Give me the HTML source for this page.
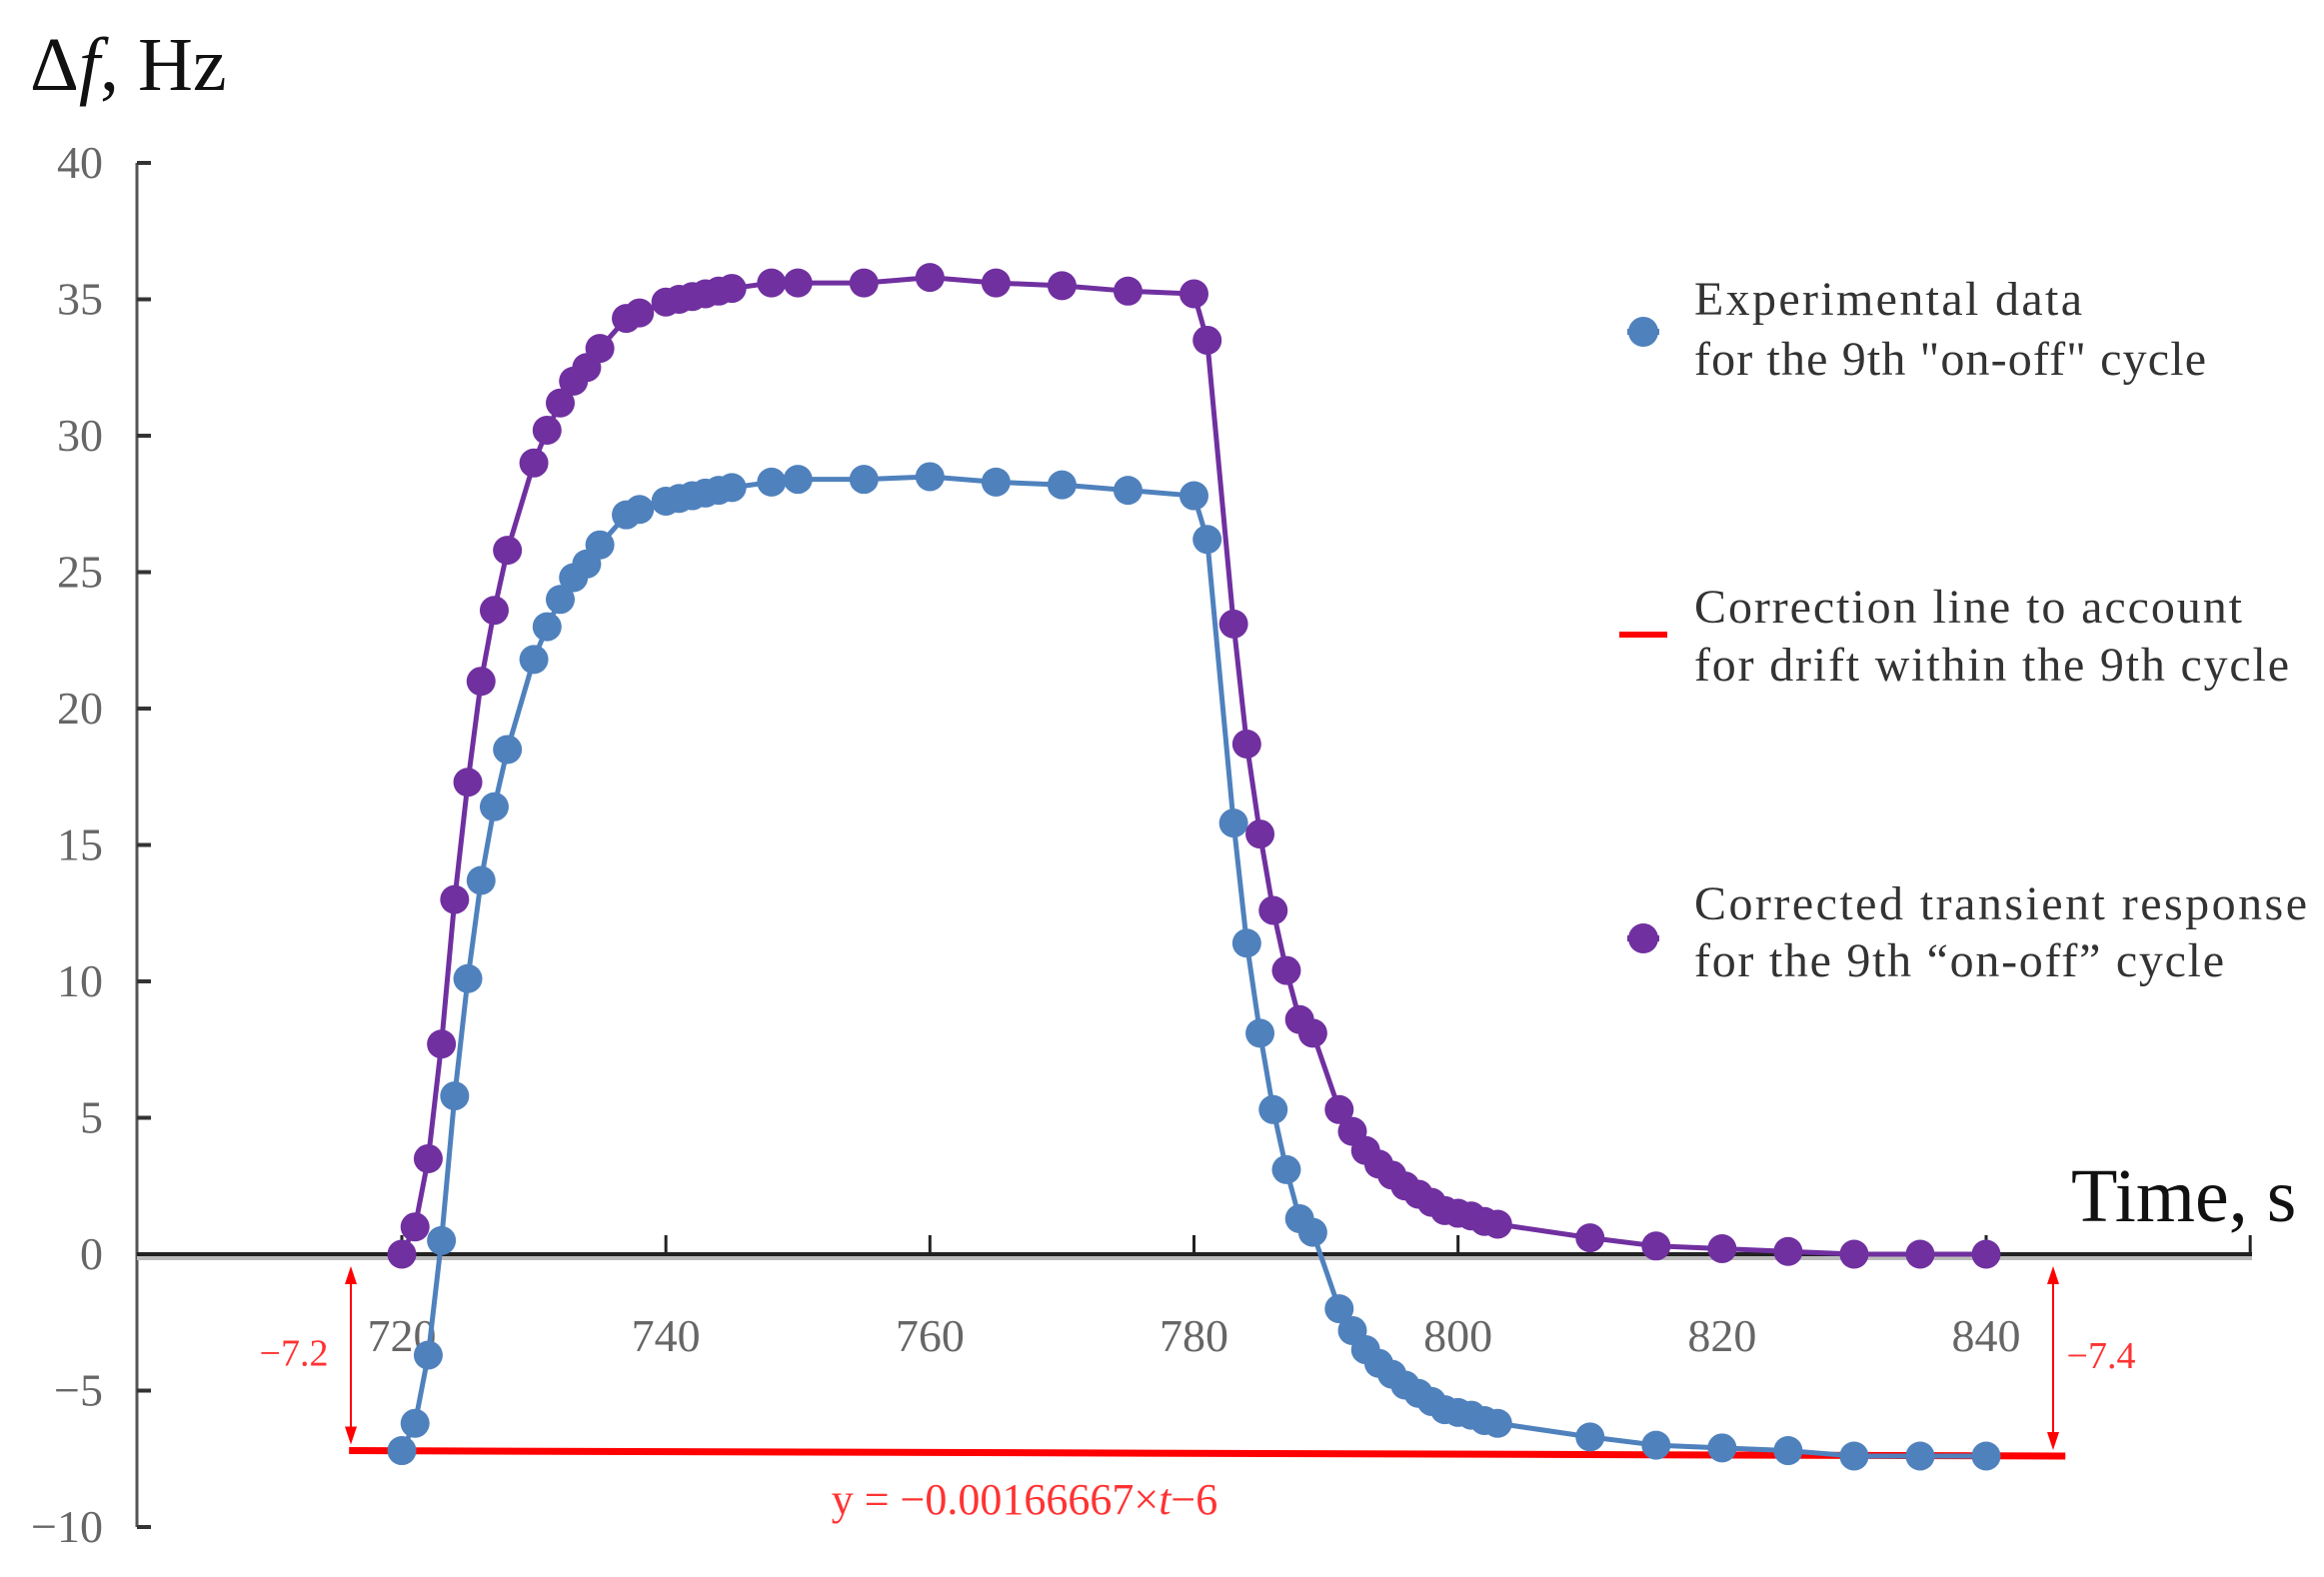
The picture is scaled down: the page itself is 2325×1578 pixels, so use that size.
<!DOCTYPE html>
<html><head><meta charset="utf-8"><style>
html,body{margin:0;padding:0;background:#fff;}
svg{display:block;font-family:"Liberation Serif",serif;}
</style></head><body>
<svg id="chart" width="2325" height="1578" viewBox="0 0 2325 1578">
<g id="axes"></g>
<g id="series"></g>
<g id="legend">
  <line x1="1628" y1="332" x2="1660" y2="332" stroke="#4f81bd" stroke-width="6"/>
  <circle cx="1644" cy="332" r="15" fill="#4f81bd"/>
  <text x="1695" y="315" font-size="48" fill="#333" textLength="388">Experimental data</text>
  <text x="1695" y="375" font-size="48" fill="#333" textLength="512">for the 9th "on-off" cycle</text>
  <line x1="1620" y1="635" x2="1668" y2="635" stroke="#ff0000" stroke-width="6"/>
  <text x="1695" y="623" font-size="48" fill="#333" textLength="548">Correction line to account</text>
  <text x="1695" y="681" font-size="48" fill="#333" textLength="595">for drift within the 9th cycle</text>
  <line x1="1628" y1="939" x2="1660" y2="939" stroke="#7030a0" stroke-width="6"/>
  <circle cx="1644" cy="939" r="15" fill="#7030a0"/>
  <text x="1695" y="920" font-size="48" fill="#333" textLength="613">Corrected transient response</text>
  <text x="1695" y="977" font-size="48" fill="#333" textLength="530">for the 9th “on-off” cycle</text>
</g>
</svg>
<script>
const xTicks=[720,740,760,780,800,820,840];
const yTicks=[40,35,30,25,20,15,10,5,0,-5,-10];
const yTickLabels=["40","35","30","25","20","15","10","5","0","−5","−10"];
const times=[720,721,722,723,724,725,726,727,728,730,731,732,733,734,735,737,738,740,741,742,743,744,745,748,750,755,760,765,770,775,780,781,783,784,785,786,787,788,789,791,792,793,794,795,796,797,798,799,800,801,802,803,810,815,820,825,830,835,840];
const experimental=[-7.2,-6.2,-3.7,0.5,5.8,10.1,13.7,16.4,18.5,21.8,23.0,24.0,24.8,25.3,26.0,27.1,27.3,27.6,27.7,27.8,27.9,28.0,28.1,28.3,28.4,28.4,28.5,28.3,28.2,28.0,27.8,26.2,15.8,11.4,8.1,5.3,3.1,1.3,0.8,-2.0,-2.8,-3.5,-4.0,-4.4,-4.8,-5.1,-5.4,-5.7,-5.8,-5.9,-6.1,-6.2,-6.7,-7.0,-7.1,-7.2,-7.4,-7.4,-7.4];
const corrected=[0,1.0,3.5,7.7,13.0,17.3,21.0,23.6,25.8,29.0,30.2,31.2,32.0,32.5,33.2,34.3,34.5,34.9,35.0,35.1,35.2,35.3,35.4,35.6,35.6,35.6,35.8,35.6,35.5,35.3,35.2,33.5,23.1,18.7,15.4,12.6,10.4,8.6,8.1,5.3,4.5,3.8,3.3,2.9,2.5,2.2,1.9,1.6,1.5,1.4,1.2,1.1,0.6,0.3,0.2,0.1,0,0,0];
const corrStart=[716,-7.2];
const corrEnd=[846,-7.4];
const corrLabels=["−7.2","−7.4"];

const NS="http://www.w3.org/2000/svg";
const X=t=>402+(t-720)*(1585/120);
const Y=v=>1255-v*27.3;
function mk(tag,attrs,parent){const e=document.createElementNS(NS,tag);for(const k in attrs)e.setAttribute(k,attrs[k]);parent.appendChild(e);return e;}
const axes=document.getElementById('axes'), ser=document.getElementById('series');

let el=mk('line',{x1:137,y1:Y(40),x2:137,y2:Y(-10),stroke:'#555','stroke-width':3},axes);


yTicks.forEach((v,i)=>{
  let t=mk('line',{x1:137,y1:Y(v),x2:151,y2:Y(v),stroke:'#333','stroke-width':4},axes);
  
  
  let l=mk('text',{x:103,y:Y(v)+15,'font-size':46,fill:'#666','text-anchor':'end'},axes);
  l.textContent=yTickLabels[i];
  
  
});
el=mk('line',{x1:137,y1:Y(0)+4,x2:2253,y2:Y(0)+4,stroke:'#bbb','stroke-width':4},axes);


el=mk('line',{x1:137,y1:Y(0),x2:2253,y2:Y(0),stroke:'#222','stroke-width':4},axes);


xTicks.concat([860]).forEach(t=>{
  let k=mk('line',{x1:X(t),y1:Y(0),x2:X(t),y2:Y(0)-19,stroke:'#222','stroke-width':3},axes);
  
  
});
xTicks.forEach(t=>{
  let l=mk('text',{x:X(t),y:1352,'font-size':46,fill:'#666','text-anchor':'middle'},axes);
  l.textContent=String(t);
  
  
});
el=mk('text',{x:30,y:90,'font-size':76,fill:'#111'},axes);
el.innerHTML='Δ<tspan font-style="italic">f</tspan>, Hz';


el=mk('text',{x:2072,y:1222,'font-size':76,fill:'#111'},axes);
el.textContent='Time, s';



function drawSeries(vals,color,name){
  const g=mk('g',{},ser);
  
  
  let p=mk('polyline',{points:times.map((t,i)=>X(t)+','+Y(vals[i])).join(' '),fill:'none',stroke:color,'stroke-width':5},g);
  
  
  times.forEach((t,i)=>{
    let c=mk('circle',{cx:X(t),cy:Y(vals[i]),r:14.5,fill:color},g);
    
    
  });
}
el=mk('line',{x1:X(corrStart[0]),y1:Y(corrStart[1]),x2:X(corrEnd[0]),y2:Y(corrEnd[1]),stroke:'#ff0000','stroke-width':7},ser);


drawSeries(experimental,'#4f81bd','experimental-series');
drawSeries(corrected,'#7030a0','corrected-series');
function arrow(x,v,label,lx,name){
  const y0=Y(0)+12,y1=Y(v)-6;
  let a=mk('line',{x1:x,y1:y0+14,x2:x,y2:y1-14,stroke:'#ff0000','stroke-width':2},ser);
  
  
  let h=mk('polygon',{points:`${x},${y0} ${x-6},${y0+18} ${x+6},${y0+18}`,fill:'#ff0000'},ser);
  
  
  h=mk('polygon',{points:`${x},${y1} ${x-6},${y1-18} ${x+6},${y1-18}`,fill:'#ff0000'},ser);
  
  
  let t=mk('text',{x:lx,y:(y0+y1)/2+10,'font-size':38,fill:'#ff3333','text-anchor':'middle'},ser);
  t.textContent=label;
  
  
}
arrow(351,corrStart[1],corrLabels[0],294,'left-offset-arrow');
arrow(2054,corrEnd[1],corrLabels[1],2102,'right-offset-arrow');
el=mk('text',{x:1025,y:1515,'font-size':44,fill:'#ff3333','text-anchor':'middle'},ser);
el.innerHTML='y = −0.00166667×<tspan font-style="italic">t</tspan>−6';


</script>
</body></html>
